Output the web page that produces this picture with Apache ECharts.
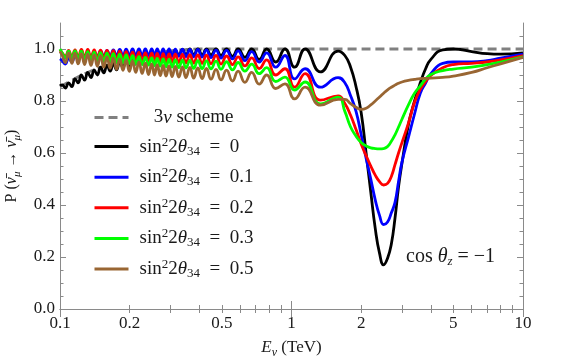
<!DOCTYPE html>
<html lang="en">
<head>
<meta charset="UTF-8">
<title>Survival probability, cos theta_z = -1</title>
<script src="https://cdn.jsdelivr.net/npm/echarts@6/dist/echarts.min.js"></script>
<style>
  html, body { margin: 0; padding: 0; background: #ffffff; }
  #chart { width: 581px; height: 362px; }
</style>
</head>
<body>
<div id="chart"></div>
<script>
// neutrino energy (TeV), shared by the five sterile curves
var energy = [
  0.1, 0.1022, 0.1055, 0.1089, 0.1125, 0.1161, 0.1198, 0.1237, 0.1277, 0.1318,
  0.1361, 0.1405, 0.145, 0.1497, 0.1546, 0.1596, 0.1647, 0.17, 0.1755, 0.1812,
  0.1871, 0.1931, 0.1993, 0.2058, 0.2124, 0.2193, 0.2264, 0.2337, 0.2412, 0.249,
  0.256, 0.263, 0.271, 0.279, 0.287, 0.296, 0.305, 0.315, 0.326, 0.338,
  0.35, 0.364, 0.378, 0.394, 0.411, 0.429, 0.449, 0.472, 0.496, 0.524,
  0.556, 0.588, 0.629, 0.673, 0.725, 0.781, 0.855, 0.937, 1.031, 1.145,
  1.333, 1.59, 1.7, 1.8, 1.9, 2.0, 2.1, 2.2, 2.3, 2.4,
  2.5, 2.6, 2.7, 2.8, 2.9, 3.0, 3.2, 3.4, 3.6, 3.8,
  4.0, 4.5, 5, 6, 7, 8, 10
];

// sin^2 2theta34 = 0
var p00 = [
  0.858, 0.862, 0.85, 0.87, 0.855, 0.885, 0.87, 0.9, 0.88, 0.91,
  0.89, 0.92, 0.9, 0.93, 0.908, 0.938, 0.915, 0.945, 0.92, 0.952,
  0.928, 0.958, 0.935, 0.965, 0.942, 0.97, 0.95, 0.975, 0.955, 0.98,
  0.96, 0.985, 0.965, 0.99, 0.968, 0.993, 0.972, 0.996, 0.975, 0.998,
  0.977, 1.0, 0.978, 1.0, 0.978, 1.0, 0.977, 1.0, 0.975, 1.0,
  0.972, 1.0, 0.968, 1.0, 0.96, 1.0, 0.95, 1.0, 0.93, 1.0,
  0.912, 0.992, 0.975, 0.93, 0.855, 0.755, 0.6, 0.45, 0.31, 0.215,
  0.17, 0.195, 0.25, 0.35, 0.47, 0.56, 0.71, 0.8, 0.87, 0.925,
  0.96, 0.997, 1.0, 0.99, 0.982, 0.98, 0.985
];
// sin^2 2theta34 = 0.1
var p01 = [
  0.962, 0.955, 0.942, 0.965, 0.95, 0.975, 0.958, 0.982, 0.962, 0.988,
  0.966, 0.99, 0.968, 0.993, 0.97, 0.995, 0.972, 0.997, 0.973, 0.998,
  0.974, 0.999, 0.975, 1.0, 0.975, 1.0, 0.975, 1.0, 0.975, 1.0,
  0.974, 1.0, 0.974, 1.0, 0.973, 1.0, 0.973, 0.999, 0.972, 0.999,
  0.971, 0.998, 0.97, 0.998, 0.969, 0.997, 0.967, 0.996, 0.965, 0.995,
  0.962, 0.993, 0.955, 0.99, 0.95, 0.985, 0.93, 0.975, 0.885, 0.924,
  0.853, 0.89, 0.87, 0.82, 0.76, 0.67, 0.58, 0.5, 0.42, 0.36,
  0.325, 0.335, 0.37, 0.41, 0.49, 0.565, 0.66, 0.75, 0.83, 0.87,
  0.905, 0.945, 0.95, 0.95, 0.955, 0.965, 0.98
];
// sin^2 2theta34 = 0.2
var p02 = [
  0.997, 0.985, 0.972, 0.995, 0.97, 0.997, 0.968, 0.998, 0.967, 0.998,
  0.966, 0.997, 0.965, 0.996, 0.964, 0.995, 0.962, 0.994, 0.96, 0.992,
  0.958, 0.99, 0.956, 0.988, 0.955, 0.987, 0.954, 0.985, 0.953, 0.984,
  0.952, 0.983, 0.951, 0.982, 0.95, 0.981, 0.949, 0.98, 0.948, 0.979,
  0.947, 0.978, 0.946, 0.977, 0.945, 0.976, 0.944, 0.975, 0.942, 0.973,
  0.94, 0.97, 0.935, 0.966, 0.925, 0.958, 0.9, 0.924, 0.853, 0.905,
  0.803, 0.82, 0.79, 0.745, 0.69, 0.635, 0.59, 0.55, 0.515, 0.49,
  0.477, 0.483, 0.51, 0.555, 0.6, 0.64, 0.715, 0.795, 0.845, 0.875,
  0.898, 0.928, 0.94, 0.945, 0.95, 0.958, 0.975
];
// sin^2 2theta34 = 0.3
var p03 = [
  1.0, 0.985, 0.965, 0.992, 0.962, 0.993, 0.96, 0.992, 0.958, 0.99,
  0.956, 0.988, 0.954, 0.986, 0.952, 0.984, 0.95, 0.982, 0.948, 0.98,
  0.946, 0.977, 0.944, 0.974, 0.942, 0.971, 0.94, 0.968, 0.938, 0.966,
  0.936, 0.964, 0.934, 0.962, 0.932, 0.96, 0.93, 0.958, 0.928, 0.957,
  0.927, 0.956, 0.926, 0.955, 0.925, 0.954, 0.924, 0.953, 0.922, 0.951,
  0.92, 0.948, 0.915, 0.942, 0.905, 0.928, 0.875, 0.892, 0.842, 0.873,
  0.789, 0.815, 0.76, 0.7, 0.665, 0.64, 0.627, 0.62, 0.617, 0.616,
  0.617, 0.625, 0.645, 0.67, 0.7, 0.73, 0.785, 0.83, 0.858, 0.885,
  0.902, 0.917, 0.923, 0.93, 0.94, 0.95, 0.97
];
// sin^2 2theta34 = 0.5
var p05 = [
  0.99, 0.975, 0.948, 0.985, 0.945, 0.984, 0.943, 0.982, 0.94, 0.98,
  0.937, 0.977, 0.934, 0.974, 0.93, 0.97, 0.926, 0.966, 0.922, 0.962,
  0.918, 0.958, 0.914, 0.954, 0.91, 0.95, 0.906, 0.946, 0.902, 0.943,
  0.9, 0.94, 0.898, 0.937, 0.896, 0.935, 0.894, 0.933, 0.892, 0.931,
  0.89, 0.929, 0.888, 0.927, 0.886, 0.925, 0.884, 0.922, 0.881, 0.919,
  0.877, 0.915, 0.872, 0.91, 0.865, 0.9, 0.848, 0.866, 0.808, 0.853,
  0.784, 0.806, 0.806, 0.79, 0.776, 0.768, 0.772, 0.785, 0.8, 0.815,
  0.83, 0.843, 0.853, 0.861, 0.868, 0.873, 0.879, 0.883, 0.886, 0.887,
  0.888, 0.891, 0.896, 0.91, 0.928, 0.943, 0.968
];

// standard 3-flavour curve
var e3nu = [0.1, 0.11, 0.12, 0.13, 0.14, 0.15, 0.17, 0.2, 0.25, 0.3, 0.35, 0.4, 1, 10];
var p3nu = [0.855, 0.875, 0.893, 0.908, 0.92, 0.93, 0.947, 0.965, 0.982, 0.993, 0.998, 1.0, 1.0, 1.0];

var seriesNames = ['3\u03bd scheme', 'sin\u00b22\u03b834 = 0', 'sin\u00b22\u03b834 = 0.1',
  'sin\u00b22\u03b834 = 0.2', 'sin\u00b22\u03b834 = 0.3', 'sin\u00b22\u03b834 = 0.5'];
var mixValues = ['0', '0.1', '0.2', '0.3', '0.5'];

var xMajorTicks = [0.1, 1, 10];
var xMinorTicks = [0.2, 0.3, 0.4, 0.5, 0.6, 0.7, 0.8, 0.9, 2, 3, 4, 5, 6, 7, 8, 9];
var xTickLabels = [0.1, 0.2, 0.5, 1, 2, 5, 10];
var yMajorTicks = [0, 0.2, 0.4, 0.6, 0.8, 1.0];
var yMinorTicks = [0.05, 0.1, 0.15, 0.25, 0.3, 0.35, 0.45, 0.5, 0.55, 0.65, 0.7, 0.75, 0.85, 0.9, 0.95, 1.05];

var serif = '"Liberation Serif", "Times New Roman", serif';
var ink = '#1a1a1a';
var frame = '#8a8a8a';

function pairs(xs, ys) {
  return xs.map(function (x, i) { return [x, ys[i]]; });
}

function richSet(size, small) {
  return {
    r: { fontFamily: serif, fontSize: size, color: ink, fill: ink, lineHeight: 22 },
    i: { fontFamily: serif, fontSize: size, fontStyle: 'italic', color: ink, fill: ink, lineHeight: 22 },
    sub: { fontFamily: serif, fontSize: small, color: ink, fill: ink, verticalAlign: 'bottom' },
    isub: { fontFamily: serif, fontSize: small, fontStyle: 'italic', color: ink, fill: ink, verticalAlign: 'bottom' },
    sup: { fontFamily: serif, fontSize: small, color: ink, fill: ink, verticalAlign: 'top' }
  };
}

var legendText = {};
legendText[seriesNames[0]] = '{r|   3}{i|\u03bd}{r| scheme}';
for (var k = 0; k < mixValues.length; k++) {
  legendText[seriesNames[k + 1]] = '{r|sin}{sup|2}{r|2}{i|\u03b8}{sub|34}{r|  =  ' + mixValues[k] + '}';
}

var chart = echarts.init(document.getElementById('chart'), null, { renderer: 'canvas' });

var box = { left: 60, right: 58, top: 23, bottom: 53, outerBoundsMode: 'none' };

function xAx(idx, pos, ticks, len, showLine) {
  return {
    gridIndex: idx, type: 'log', min: 0.1, max: 10, position: pos,
    axisLine: { show: showLine, lineStyle: { color: frame, width: 1 } },
    axisTick: { show: true, inside: true, length: len, customValues: ticks, lineStyle: { color: frame } },
    axisLabel: { show: false },
    splitLine: { show: false }
  };
}
function yAx(idx, pos, ticks, len, showLine) {
  return {
    gridIndex: idx, type: 'value', min: 0, max: 1.1, position: pos,
    axisLine: { show: showLine, lineStyle: { color: frame, width: 1 } },
    axisTick: { show: true, inside: true, length: len, customValues: ticks, lineStyle: { color: frame } },
    axisLabel: { show: false },
    splitLine: { show: false }
  };
}

var xAxes = [
  xAx(0, 'bottom', xMajorTicks, 8, true),
  xAx(1, 'bottom', xMinorTicks, 4, false),
  xAx(2, 'top', xMajorTicks, 8, true),
  xAx(3, 'top', xMinorTicks, 4, false)
];
xAxes[0].axisLabel = {
  show: true, customValues: xTickLabels, margin: 6,
  color: ink, fontFamily: serif, fontSize: 17,
  formatter: function (v) { return String(+Number(v).toPrecision(3)); }
};
xAxes[0].name = '{i|E}{isub|\u03bd}{r| (TeV)}';
xAxes[0].nameLocation = 'middle';
xAxes[0].nameGap = 28;
xAxes[0].nameTextStyle = { rich: richSet(17, 12) };

var yAxes = [
  yAx(0, 'left', yMajorTicks, 6, true),
  yAx(1, 'left', yMinorTicks, 3.5, false),
  yAx(2, 'right', yMajorTicks, 6, true),
  yAx(3, 'right', yMinorTicks, 3.5, false)
];
yAxes[0].axisLabel = {
  show: true, customValues: yMajorTicks, margin: 5,
  color: ink, fontFamily: serif, fontSize: 17,
  formatter: function (v) { return Number(v).toFixed(1); }
};
yAxes[0].name = '{r|P (}{i|\u03bd\u0304}{isub|\u03bc}{r| \u2192 }{i|\u03bd\u0304}{isub|\u03bc}{r|)}';
yAxes[0].nameLocation = 'middle';
yAxes[0].nameGap = 36;
yAxes[0].nameTextStyle = { rich: richSet(16, 11) };

var colors = ['#808080', '#000000', '#0000ff', '#ff0000', '#00ff00', '#996633'];
var curves = [pairs(e3nu, p3nu), pairs(energy, p00), pairs(energy, p01),
  pairs(energy, p02), pairs(energy, p03), pairs(energy, p05)];

var series = curves.map(function (d, i) {
  return {
    name: seriesNames[i],
    type: 'line',
    xAxisIndex: 0,
    yAxisIndex: 0,
    data: d,
    symbol: 'none',
    smooth: 0.5,
    lineStyle: {
      color: colors[i],
      width: 2.8,
      type: i === 0 ? [9, 5] : 'solid'
    },
    itemStyle: { color: colors[i] },
    z: 2 + i
  };
});

chart.setOption({
  animation: false,
  backgroundColor: '#ffffff',
  grid: [box, box, box, box],
  xAxis: xAxes,
  yAxis: yAxes,
  legend: {
    orient: 'vertical',
    left: 93,
    top: 108,
    padding: 0,
    itemWidth: 34,
    itemHeight: 14,
    itemGap: 8.6,
    selectedMode: false,
    data: seriesNames,
    itemStyle: { color: 'rgba(0,0,0,0)', borderWidth: 0, opacity: 0 },
    lineStyle: { width: 3 },
    formatter: function (name) { return legendText[name]; },
    textStyle: { padding: [0, 0, 0, 6], rich: richSet(19, 13) }
  },
  graphic: [{
    type: 'text',
    left: 406,
    top: 247,
    style: {
      text: '{r|cos }{i|\u03b8}{isub|z}{r| = \u22121}',
      rich: richSet(20, 13)
    }
  }],
  series: series
});
</script>
</body>
</html>
